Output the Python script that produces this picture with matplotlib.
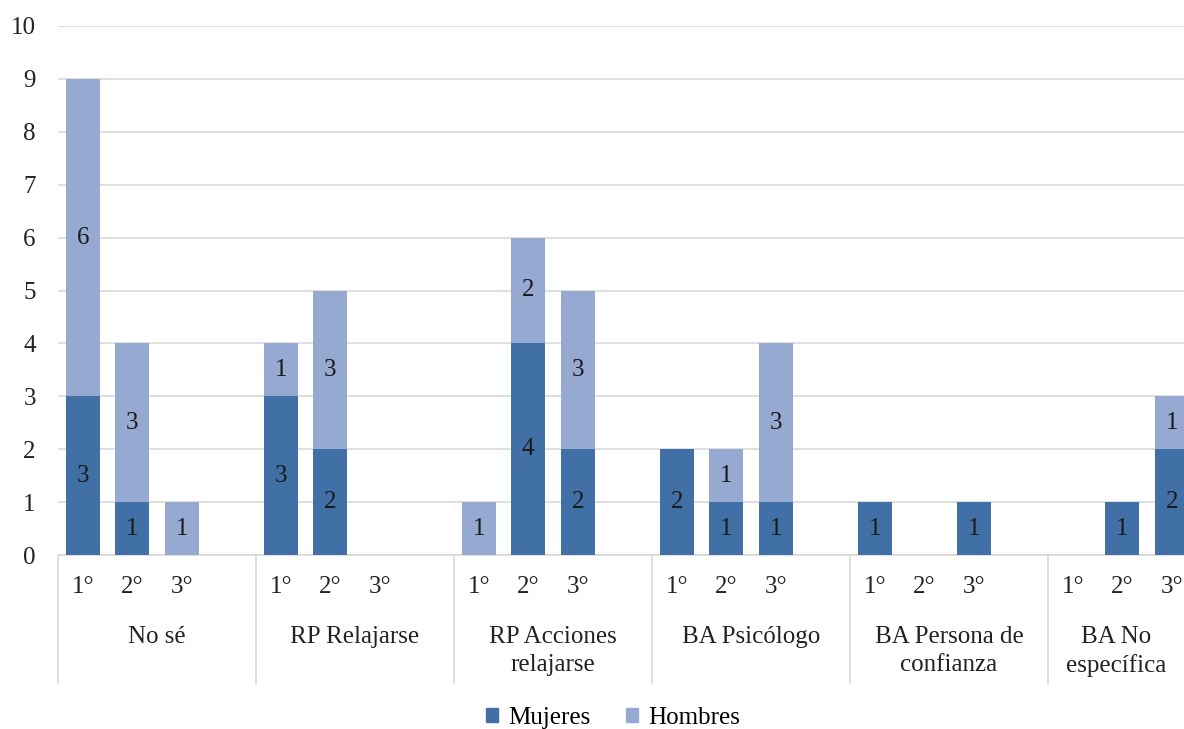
import numpy as np
import matplotlib.pyplot as plt
from matplotlib.patches import Patch

# respuestas por curso, apiladas por sexo
grupos = ['No sé', 'RP Relajarse', 'RP Acciones\nrelajarse', 'BA Psicólogo',
          'BA Persona de\nconfianza', 'BA No\nespecífica']
cursos = ['1°', '2°', '3°']
mujeres = [3, 1, 0,  3, 2, 0,  0, 4, 2,  2, 1, 1,  1, 0, 1,  0, 1, 2]
hombres = [6, 3, 1,  1, 3, 0,  1, 2, 3,  0, 1, 3,  0, 0, 0,  0, 0, 1]

c_muj = '#4170A6'
c_hom = '#95A9D1'
fs = 18
plt.rcParams['font.family'] = ['Liberation Serif', 'DejaVu Serif']

W, H = 1184, 729
fig = plt.figure(figsize=(W / 100, H / 100), dpi=100)
slot = 49.5
n_slots = 4 * len(grupos)
ax = fig.add_axes([58 / W, 174 / H, n_slots * slot / W, 529 / H])

# cada grupo ocupa 4 posiciones: 3 cursos y un hueco
x = np.array([4 * g + k for g in range(len(grupos)) for k in range(len(cursos))])
muj = np.array(mujeres)
hom = np.array(hombres)
ax.bar(x, muj, width=0.68, color=c_muj, zorder=3)
ax.bar(x, hom, width=0.68, bottom=muj, color=c_hom, zorder=3)

for xi, m, h in zip(x, muj, hom):
    if m > 0:
        ax.text(xi, m / 2, str(m), ha='center', va='center', fontsize=fs, color='#1a1a1a', zorder=4)
    if h > 0:
        ax.text(xi, m + h / 2, str(h), ha='center', va='center', fontsize=fs, color='#1a1a1a', zorder=4)

ax.set_xlim(-0.5, n_slots - 0.5)
ax.set_ylim(0, 10)
ax.set_yticks(range(0, 11))
ax.tick_params(axis='y', length=0, pad=16, labelsize=fs, labelcolor='#222222')
ax.grid(axis='y', color='#d9d9d9', linewidth=1.2, zorder=0)
ax.set_xticks([])
for s in ['left', 'right', 'top']:
    ax.spines[s].set_visible(False)
ax.spines['bottom'].set_color('#d9d9d9')
ax.spines['bottom'].set_linewidth(1.2)

# eje de categorías en dos niveles
tr = ax.get_xaxis_transform()
for k, xi in enumerate(x):
    ax.text(xi, -0.061, cursos[k % 3], transform=tr, ha='center', va='center',
            fontsize=fs, color='#222222')

x_vis = -0.5 + (W - 58) / slot
for g, nombre in enumerate(grupos):
    x0 = 4 * g - 0.5
    ax.plot([x0, x0], [0, -0.242], transform=tr, color='#d9d9d9', lw=1.2, clip_on=False)
    xc = 4 * g + 1.5
    if xc + 2 > x_vis:
        xc = (x0 + x_vis) / 2
    ax.text(xc, -0.135, nombre, transform=tr, ha='center', va='top', fontsize=fs,
            color='#222222', linespacing=1.3)

handles = [Patch(color=c_muj, label='Mujeres'), Patch(color=c_hom, label='Hombres')]
fig.legend(handles=handles, loc='center', bbox_to_anchor=(613 / W, 1 - 718 / H),
           ncol=2, frameon=False, fontsize=fs, handlelength=0.5, handleheight=0.5,
           handletextpad=0.4, columnspacing=1.4)

fig.savefig('out.png', dpi=100)
